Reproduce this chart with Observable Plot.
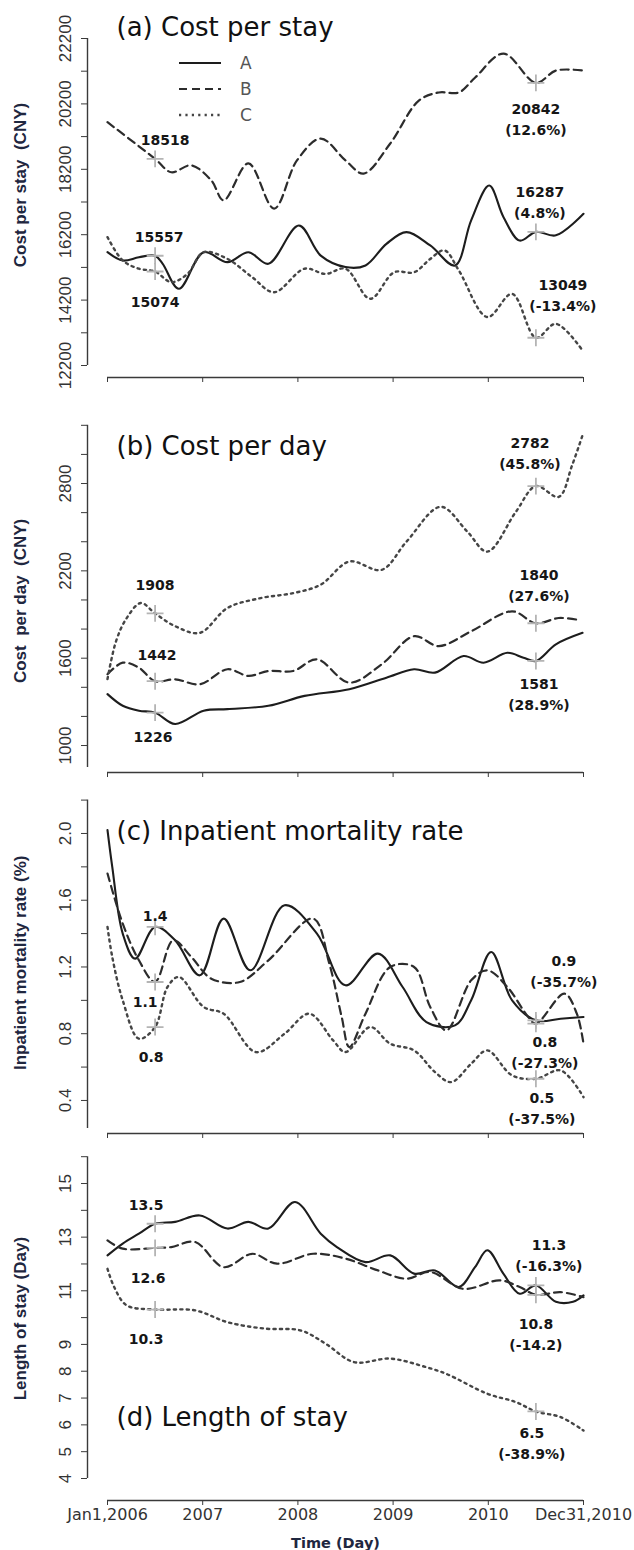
<!DOCTYPE html>
<html><head><meta charset="utf-8">
<script src="https://cdn.jsdelivr.net/npm/d3@7"></script>
<script src="https://cdn.jsdelivr.net/npm/@observablehq/plot@0.6"></script>
<style>
body{margin:0;background:#fff;}
#wrap{position:relative;width:634px;height:1550px;overflow:hidden;background:#fff;}
.pn{position:absolute;left:0;}
.pn svg{overflow:visible;}
</style></head><body><div id="wrap"></div>
<script>
// ---------- shared axis data ----------
const xTicks = [2006, 2007, 2008, 2009, 2010, 2011];
const xTickLabels = ["Jan1,2006", "2007", "2008", "2009", "2010", "Dec31,2010"];
const markerTimes = [2006.5, 2010.5];
const seriesNames = ["A", "B", "C"];
const xTitle = "Time (Day)";

// ---------- (a) Cost per stay ----------
const a_title = "(a) Cost per stay";
const a_yTitle = "Cost per stay  (CNY)";
const a_yTicks = [12200,13200,14200,15200,16200,17200,18200,19200,20200,21200,22200];
const a_yTickLabels = ["12200","","14200","","16200","","18200","","20200","","22200"];
const a_tA = [2006.0,2006.16,2006.33,2006.5,2006.58,2006.75,2007.01,2007.26,2007.48,2007.69,2008.01,2008.24,2008.5,2008.71,2008.93,2009.14,2009.39,2009.65,2009.82,2010.01,2010.16,2010.33,2010.5,2010.71,2011.0];
const a_vA = [15665,15410,15510,15557,15310,14545,15665,15360,15665,15310,16480,15560,15210,15260,15920,16280,15870,15260,16640,17705,16735,16020,16287,16180,16840];
const a_tB = [2006.0,2006.5,2006.67,2006.88,2007.09,2007.22,2007.48,2007.75,2007.99,2008.24,2008.5,2008.69,2008.97,2009.27,2009.48,2009.69,2009.86,2010.16,2010.5,2010.71,2011.0];
const a_vB = [19640,18518,18110,18320,17860,17250,18380,17000,18470,19140,18470,18070,18990,20300,20550,20550,21000,21740,20842,21220,21220];
const a_tC = [2006.0,2006.16,2006.33,2006.5,2006.67,2006.84,2007.01,2007.26,2007.52,2007.75,2008.07,2008.29,2008.5,2008.76,2009.01,2009.22,2009.39,2009.54,2009.69,2009.99,2010.25,2010.5,2010.71,2010.99];
const a_vC = [16125,15410,15160,15074,14750,15000,15665,15460,14900,14440,15160,15000,15160,14240,15050,15050,15460,15720,15110,13680,14390,13049,13475,12660];
const a_labSeries = ["B","A","C","B","A","C"];
const a_labText = ["18518","15557","15074","20842\n(12.6%)","16287\n(4.8%)","13049\n(-13.4%)"];

// ---------- (b) Cost per day ----------
const b_title = "(b) Cost per day";
const b_yTitle = "Cost  per day  (CNY)";
const b_yTicks = [1000,1200,1400,1600,1800,2000,2200,2400,2600,2800,3000,3200];
const b_yTickLabels = ["1000","","","1600","","","2200","","","2800","",""];
const b_tA = [2006.0,2006.16,2006.33,2006.5,2006.71,2007.01,2007.26,2007.69,2008.07,2008.54,2008.93,2009.22,2009.44,2009.74,2009.95,2010.2,2010.37,2010.5,2010.71,2010.99];
const b_vA = [1353,1273,1239,1226,1148,1239,1250,1273,1341,1387,1466,1524,1501,1615,1569,1637,1603,1581,1695,1774];
const b_tB = [2006.0,2006.16,2006.33,2006.5,2006.71,2006.97,2007.26,2007.48,2007.69,2007.95,2008.2,2008.54,2008.88,2009.22,2009.48,2009.82,2010.25,2010.5,2010.74,2010.93];
const b_vB = [1490,1569,1535,1442,1455,1421,1524,1478,1512,1512,1592,1432,1558,1751,1683,1785,1922,1840,1876,1865];
const b_tC = [2006.0,2006.09,2006.2,2006.35,2006.5,2006.71,2006.97,2007.26,2007.61,2007.95,2008.24,2008.54,2008.88,2009.14,2009.5,2009.78,2009.99,2010.29,2010.5,2010.74,2010.88,2011.0];
const b_vC = [1457,1717,1874,1979,1908,1820,1774,1945,2013,2047,2105,2264,2207,2400,2640,2469,2332,2606,2782,2708,2925,3152];
const b_labSeries = ["C","B","A","C","B","A"];
const b_labText = ["1908","1442","1226","2782\n(45.8%)","1840\n(27.6%)","1581\n(28.9%)"];

// ---------- (c) Inpatient mortality rate ----------
const c_title = "(c) Inpatient mortality rate";
const c_yTitle = "Inpatient mortality rate (%)";
const c_yTicks = [0.4,0.6,0.8,1.0,1.2,1.4,1.6,1.8,2.0,2.2];
const c_yTickLabels = ["0.4","","0.8","","1.2","","1.6","","2.0",""];
const c_tA = [2006.0,2006.05,2006.16,2006.29,2006.5,2006.71,2006.97,2007.22,2007.5,2007.86,2008.2,2008.5,2008.84,2009.1,2009.35,2009.65,2009.82,2010.03,2010.25,2010.5,2010.76,2011.0];
const c_vA = [2.02,1.80,1.40,1.25,1.44,1.36,1.15,1.49,1.18,1.57,1.40,1.09,1.28,1.08,0.87,0.85,1.00,1.29,1.00,0.88,0.89,0.90];
const c_tB = [2006.0,2006.16,2006.33,2006.5,2006.69,2006.88,2007.09,2007.39,2007.69,2008.16,2008.33,2008.46,2008.54,2008.71,2008.97,2009.22,2009.39,2009.56,2009.82,2009.99,2010.2,2010.42,2010.5,2010.8,2010.93,2011.0];
const c_vB = [1.76,1.46,1.24,1.11,1.36,1.26,1.13,1.11,1.24,1.49,1.22,0.90,0.72,0.92,1.20,1.20,0.96,0.82,1.12,1.18,1.08,0.90,0.86,1.04,0.92,0.74];
const c_tC = [2006.0,2006.05,2006.16,2006.33,2006.5,2006.63,2006.75,2007.01,2007.22,2007.56,2007.86,2008.12,2008.37,2008.5,2008.76,2008.97,2009.22,2009.44,2009.61,2009.82,2009.99,2010.25,2010.5,2010.76,2011.0];
const c_vC = [1.44,1.26,1.00,0.77,0.84,1.08,1.14,0.96,0.92,0.69,0.80,0.92,0.76,0.69,0.84,0.74,0.70,0.57,0.51,0.62,0.70,0.55,0.53,0.58,0.42];
const c_labSeries = ["A","B","C","A","B","C"];
const c_labText = ["1.4","1.1","0.8","0.9\n(-35.7%)","0.8\n(-27.3%)","0.5\n(-37.5%)"];

// ---------- (d) Length of stay ----------
const d_title = "(d) Length of stay";
const d_yTitle = "Length of stay (Day)";
const d_yTicks = [4,5,6,7,8,9,10,11,12,13,14,15,16];
const d_yTickLabels = ["4","5","6","7","8","9","","11","","13","","15",""];
const d_tA = [2006.0,2006.16,2006.33,2006.5,2006.71,2006.97,2007.26,2007.48,2007.69,2007.97,2008.24,2008.41,2008.71,2008.97,2009.22,2009.44,2009.69,2009.86,2009.99,2010.16,2010.33,2010.5,2010.71,2010.89,2011.0];
const d_vA = [12.32,12.76,13.13,13.5,13.57,13.81,13.32,13.57,13.32,14.31,13.13,12.63,12.07,12.32,11.64,11.76,11.14,11.88,12.51,11.63,10.89,11.2,10.59,10.59,10.83];
const d_tB = [2006.0,2006.16,2006.5,2006.67,2006.92,2007.22,2007.52,2007.78,2008.16,2008.5,2008.84,2009.14,2009.39,2009.74,2010.12,2010.33,2010.5,2010.76,2011.0];
const d_vB = [12.88,12.57,12.6,12.63,12.82,11.88,12.38,12.01,12.38,12.2,11.76,11.45,11.7,11.07,11.39,11.14,10.85,10.95,10.76];
const d_tC = [2006.0,2006.07,2006.2,2006.5,2006.92,2007.26,2007.65,2008.03,2008.29,2008.59,2008.97,2009.35,2009.56,2009.99,2010.29,2010.5,2010.76,2011.0];
const d_vC = [11.82,11.14,10.46,10.3,10.27,9.83,9.59,9.52,9.03,8.34,8.47,8.15,7.9,7.16,6.85,6.5,6.29,5.79];
const d_labSeries = ["A","B","C","A","B","C"];
const d_labText = ["13.5","12.6","10.3","11.3\n(-16.3%)","10.8\n(-14.2)","6.5\n(-38.9%)"];

// ---------- styling / layout ----------
const lineStyle = {
  A: {stroke: "#1d1d1d", strokeWidth: 2.1},
  B: {stroke: "#2c2c2c", strokeWidth: 2.2, strokeDasharray: "8,5"},
  C: {stroke: "#454545", strokeWidth: 2.4, strokeDasharray: "2.2,4.2"}
};
const axisColor = "#3a3a3a";
const titleFont = "DejaVu Sans, sans-serif";
const labelFont = "DejaVu Sans, sans-serif";
const rotFont = "Liberation Sans, Arial, sans-serif";
const navy = "#1f2740";

function rows(t, v) { return t.map((d, i) => ({t: d, v: v[i]})); }
function valueAt(t, v, when) { const i = t.indexOf(when); return v[i]; }

function panel(cfg) {
  const series = {A: rows(cfg.tA, cfg.vA), B: rows(cfg.tB, cfg.vB), C: rows(cfg.tC, cfg.vC)};
  const raw = {A: [cfg.tA, cfg.vA], B: [cfg.tB, cfg.vB], C: [cfg.tC, cfg.vC]};
  const markers = [];
  for (const s of seriesNames) for (const m of markerTimes) markers.push({t: m, v: valueAt(raw[s][0], raw[s][1], m)});
  const yLab = new Map(cfg.yTicks.map((d, i) => [d, cfg.yTickLabels[i]]));
  const xLab = new Map(xTicks.map((d, i) => [d, xTickLabels[i]]));
  const marks = [
    Plot.ruleX([{x: xTicks[0], y1: cfg.yDomain[0], y2: cfg.yDomain[1]}], {x: "x", y1: "y1", y2: "y2", dx: -20, stroke: axisColor, strokeWidth: 1.4}),
    Plot.ruleY([{y: cfg.yDomain[0], x1: xTicks[0], x2: xTicks[xTicks.length - 1]}], {y: "y", x1: "x1", x2: "x2", dy: cfg.insetBottom, stroke: axisColor, strokeWidth: 1.4}),
    Plot.axisY({ticks: cfg.yTicks, tickFormat: d => yLab.get(d), tickRotate: -90, tickSize: 6, tickPadding: 11, stroke: axisColor, fill: "#333", fontSize: 17, fontFamily: rotFont, label: null}),
    Plot.axisX({ticks: xTicks, tickFormat: cfg.bottom ? (d => xLab.get(d)) : (() => ""), tickSize: 5, tickPadding: 3, stroke: axisColor, fill: "#333", fontSize: 16, fontFamily: labelFont, label: null}),
    ...seriesNames.map(s => Plot.line(series[s], {x: "t", y: "v", curve: "catmull-rom", ...lineStyle[s]})),
    Plot.dot(markers, {x: "t", y: "v", symbol: "plus", r: 5.5, stroke: "#b4b4b4", strokeWidth: 1.8}),
    Plot.text([cfg.title], {frameAnchor: cfg.titleAnchor, textAnchor: "start", lineAnchor: "bottom", dx: 29, dy: cfg.titleDy, fontSize: 26, fontFamily: titleFont, fill: "#111"}),
    Plot.text([cfg.yTitle], {frameAnchor: "left", rotate: -90, textAnchor: "middle", lineAnchor: "middle", dx: -67, dy: cfg.yTitleDy, fontSize: 17, fontWeight: "bold", fontFamily: rotFont, fill: navy})
  ];
  cfg.labSeries.forEach((s, i) => {
    const when = markerTimes[i < 3 ? 0 : 1];
    const v = valueAt(raw[s][0], raw[s][1], when);
    const [dx, dy] = cfg.labOffsets[i];
    marks.push(Plot.text([{t: when, v, text: cfg.labText[i]}], {x: "t", y: "v", text: "text", dx, dy, textAnchor: "middle", lineAnchor: "middle", lineHeight: 1.5, fontSize: 14, fontWeight: "bold", fontFamily: labelFont, fill: "#161616"}));
  });
  if (cfg.bottom) {
    marks.push(Plot.text([xTitle], {frameAnchor: "bottom", lineAnchor: "middle", dy: 43, dx: 0, fontSize: 14.5, fontWeight: "bold", fontFamily: labelFont, fill: navy}));
  }
  const svg = Plot.plot({
    width: 634, height: cfg.height,
    marginTop: cfg.marginTop, marginBottom: cfg.marginBottom, marginLeft: 87, marginRight: 51,
    x: {type: "linear", domain: [xTicks[0], xTicks[xTicks.length - 1]], insetLeft: 20, insetRight: 0},
    y: {type: "linear", domain: cfg.yDomain, insetBottom: cfg.insetBottom, insetTop: 0},
    style: {fontFamily: rotFont, fontSize: "17px", background: "transparent", overflow: "visible"},
    marks
  });
  const div = document.createElement("div");
  div.className = "pn";
  div.style.top = cfg.top + "px";
  div.appendChild(svg);
  document.getElementById("wrap").appendChild(div);
}

panel({top: 0, height: 400, marginTop: 38, marginBottom: 23, insetBottom: 12, yDomain: [12200, 22200],
  yTicks: a_yTicks, yTickLabels: a_yTickLabels, tA: a_tA, vA: a_vA, tB: a_tB, vB: a_vB, tC: a_tC, vC: a_vC,
  labSeries: a_labSeries, labText: a_labText, labOffsets: [[10,-21],[4,-20],[0,29],[0,35],[4,-31],[27,-44]],
  title: a_title, titleAnchor: "top-left", titleDy: -3, yTitle: a_yTitle, yTitleDy: -23});
panel({top: 400, height: 390, marginTop: 24.8, marginBottom: 18, insetBottom: 5, yDomain: [849, 3200],
  yTicks: b_yTicks, yTickLabels: b_yTickLabels, tA: b_tA, vA: b_vA, tB: b_tB, vB: b_vB, tC: b_tC, vC: b_vC,
  labSeries: b_labSeries, labText: b_labText, labOffsets: [[0,-30],[2,-28],[-2,23],[-6,-34],[3,-39],[3,32]],
  title: b_title, titleAnchor: "top-left", titleDy: 30, yTitle: b_yTitle, yTitleDy: 2});
panel({top: 790, height: 360, marginTop: 9.6, marginBottom: 17, insetBottom: 5, yDomain: [0.232, 2.2],
  yTicks: c_yTicks, yTickLabels: c_yTickLabels, tA: c_tA, vA: c_vA, tB: c_tB, vB: c_vB, tC: c_tC, vC: c_vC,
  labSeries: c_labSeries, labText: c_labText, labOffsets: [[0,-13],[-10,18],[-4,28],[28,-51],[9,27],[6,28]],
  title: c_title, titleAnchor: "top-left", titleDy: 40, yTitle: c_yTitle, yTitleDy: -4});
panel({top: 1150, height: 400, marginTop: 6.2, marginBottom: 50, insetBottom: 22, yDomain: [4, 16],
  yTicks: d_yTicks, yTickLabels: d_yTickLabels, tA: d_tA, vA: d_vA, tB: d_tB, vB: d_vB, tC: d_tC, vC: d_vC,
  labSeries: d_labSeries, labText: d_labText, labOffsets: [[-9,-20],[-7,28],[-9,28],[13,-32],[0,38],[-4,30]],
  title: d_title, titleAnchor: "bottom-left", titleDy: -75, yTitle: d_yTitle, yTitleDy: -10, bottom: true});

// ---------- legend (panel a) ----------
(function legend() {
  const ns = "http://www.w3.org/2000/svg";
  const svg = document.createElementNS(ns, "svg");
  svg.setAttribute("width", 120); svg.setAttribute("height", 80);
  svg.style.position = "absolute"; svg.style.left = "170px"; svg.style.top = "50px";
  seriesNames.forEach((s, i) => {
    const y = 13 + i * 26;
    const ln = document.createElementNS(ns, "line");
    ln.setAttribute("x1", 9); ln.setAttribute("x2", 51); ln.setAttribute("y1", y); ln.setAttribute("y2", y);
    ln.setAttribute("stroke", lineStyle[s].stroke); ln.setAttribute("stroke-width", lineStyle[s].strokeWidth);
    if (lineStyle[s].strokeDasharray) ln.setAttribute("stroke-dasharray", lineStyle[s].strokeDasharray);
    svg.appendChild(ln);
    const tx = document.createElementNS(ns, "text");
    tx.setAttribute("x", 70); tx.setAttribute("y", y + 6);
    tx.setAttribute("font-family", labelFont); tx.setAttribute("font-size", 17); tx.setAttribute("fill", "#555");
    tx.textContent = s;
    svg.appendChild(tx);
  });
  document.getElementById("wrap").appendChild(svg);
})();
</script>
</body></html>
